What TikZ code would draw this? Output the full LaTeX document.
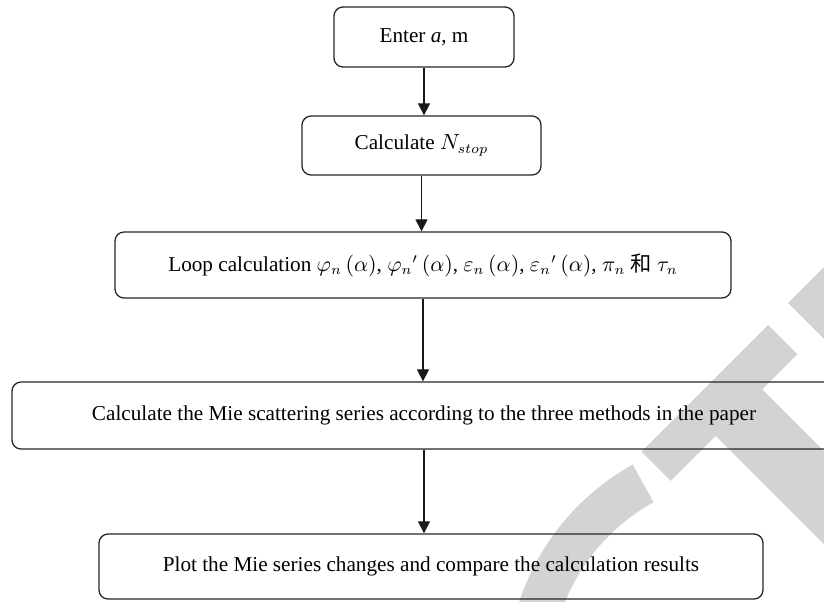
\documentclass[tikz,border=0pt]{standalone}
\usepackage{fontspec}
\setmainfont{Liberation Serif}
\newfontfamily\cjk{Noto Sans CJK SC}
\usepackage{xcolor}
\usepackage{tikz}
\usetikzlibrary{shapes,arrows.meta}
\definecolor{wmgray}{RGB}{211,211,211}

\begin{document}
\begin{tikzpicture}[x=0.5pt,y=-0.5pt,
    flowbox/.style={draw=black!85,line width=0.65pt,rounded corners=4.5pt,
      inner sep=0pt,font=\fontsize{10.6}{12.7}\selectfont},
    flowarrow/.style={draw=black!90,line width=0.6pt,-{Triangle[length=6pt,width=6pt]}}]
  \useasboundingbox (0,0) rectangle (824,601);
  \clip (0,0) rectangle (824,601);
  % watermark behind the chart
  \fill[wmgray] (751,678) ++(241:244) arc[start angle=241,end angle=160,radius=244]
    -- ++(160:-43) arc[start angle=160,end angle=241,radius=201] -- cycle;
  \fill[wmgray] (768,325) -- (641.5,451.5) -- (670.75,480.75) -- (715.75,435.75)
    -- (840,560) -- (840,467) -- (762.25,389.25) -- (797.25,354.25) -- cycle;
  \fill[wmgray] (788,303) -- (840,251) -- (840,355) -- cycle;
  % flow chart
  \node[flowbox,minimum width=90pt,minimum height=30pt] (enter) at (424,37)
    {Enter \textit{a}, m};
  \node[flowbox,minimum width=119.5pt,minimum height=29.5pt] (nstop) at (421.5,145.5)
    {Calculate $N_{stop}$};
  \node[flowbox,minimum width=308pt,minimum height=33pt] (loop) at (423,265)
    {Loop calculation $\varphi_n\,(\alpha)$, $\varphi_n{}'\,(\alpha)$,
     $\varepsilon_n\,(\alpha)$, $\varepsilon_n{}'\,(\alpha)$, $\pi_n$ {\cjk 和} $\tau_n$};
  \node[flowbox,minimum width=412pt,minimum height=33.5pt] (series) at (424,415.5)
    {Calculate the Mie scattering series according to the three methods in the paper};
  \node[flowbox,minimum width=332pt,minimum height=32.5pt] (plot) at (431,566.5)
    {Plot the Mie series changes and compare the calculation results};
  \draw[flowarrow] (enter.south) -- (enter.south |- nstop.north);
  \draw[flowarrow] (nstop.south) -- (nstop.south |- loop.north);
  \draw[flowarrow] (loop.south) -- (loop.south |- series.north);
  \draw[flowarrow] (series.south) -- (series.south |- plot.north);
\end{tikzpicture}
\end{document}
